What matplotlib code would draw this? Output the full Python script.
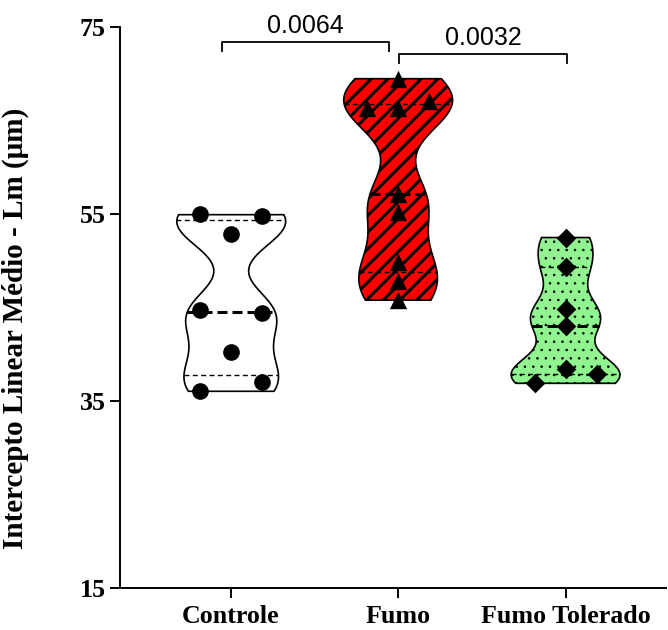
import numpy as np
import matplotlib
matplotlib.use("Agg")
import matplotlib.pyplot as plt

# ---- data ----
categories = ["Controle", "Fumo", "Fumo Tolerado"]
controle = [55.0, 54.8, 52.9, 44.7, 44.4, 40.3, 37.0, 36.1]
fumo = [69.5, 67.1, 66.4, 66.4, 57.2, 55.2, 49.9, 47.8, 45.8]
fumo_tolerado = [52.5, 49.3, 44.8, 43.0, 38.4, 37.9, 36.9]
# horizontal slot of each point (scatter spread used by the original software)
controle_slots = [-1, 1, 0, -1, 1, 0, 1, -1]
fumo_slots = [0, 1, -1, 0, 0, 0, 0, 0, 0]
tolerado_slots = [0, 0, 0, 0, 0, 1, -1]
p_values = ["0.0064", "0.0032"]
comparisons = [(0, 1), (1, 2)]
yticks = [15, 35, 55, 75]

groups = [controle, fumo, fumo_tolerado]
slots = [controle_slots, fumo_slots, tolerado_slots]
fills = ["#FFFFFF", "#FF0000", "#90F590"]
hatches = [None, "//", ".."]
hatch_lw = [1.0, 2.2, 0.6]
markers = ["o", "^", "D"]
msizes = [12, 12.5, 10]

plt.rcParams["lines.scale_dashes"] = False

fig = plt.figure(figsize=(6.68, 6.30), dpi=100)
ax = fig.add_axes([0.180, 0.0667, 0.817, 0.890])

positions = np.arange(len(categories))
vp = ax.violinplot(groups, positions=positions, widths=0.65,
                   showextrema=False, showmedians=False, bw_method=0.33,
                   points=300)

for i, body in enumerate(vp["bodies"]):
    body.set_facecolor(fills[i])
    body.set_edgecolor("black")
    body.set_linewidth(1.2)
    body.set_alpha(1)
    if hatches[i]:
        body.set_hatch(hatches[i])
        if hasattr(body, "set_hatch_linewidth"):
            body.set_hatch_linewidth(hatch_lw[i])
        else:
            plt.rcParams["hatch.linewidth"] = 2.2
    body.set_zorder(1)
    verts = body.get_paths()[0].vertices
    right = verts[verts[:, 0] >= positions[i]]
    order = np.argsort(right[:, 1])
    ys = right[order, 1]
    hw = right[order, 0] - positions[i]
    q1, med, q3 = np.percentile(groups[i], [25, 50, 75], method="weibull")
    for q, lw, dash in [(q1, 1.0, (3.6, 2.4)), (q3, 1.0, (3.6, 2.4)),
                        (med, 2.2, (7.2, 3.6))]:
        w = np.interp(q, ys, hw)
        ax.plot([positions[i] - w, positions[i] + w], [q, q], color="black",
                lw=lw, dashes=dash, zorder=2, solid_capstyle="butt",
                dash_capstyle="butt")
    xs = positions[i] + np.array(slots[i]) * 0.185
    ax.scatter(xs, groups[i], marker=markers[i], s=msizes[i] ** 2,
               color="black", zorder=3, linewidths=0)

# significance brackets
bracket_y = [73.4, 72.1]
for (a, b), p, yb in zip(comparisons, p_values, bracket_y):
    x0 = positions[a] - 0.055 if a == 0 else positions[a] + 0.006
    x1 = positions[b] - 0.054 if a == 0 else positions[b] + 0.01
    ax.plot([x0, x0, x1, x1], [yb - 0.9, yb, yb, yb - 0.9],
            color="black", lw=1.3, clip_on=False, zorder=4)
    ax.text((x0 + x1) / 2, yb + 0.45, p, ha="center", va="bottom",
            fontsize=18, family="Liberation Sans", clip_on=False)

ax.set_xlim(-0.66, 2.6)
ax.set_ylim(15, 75)
ax.set_yticks(yticks)
ax.set_xticks(positions)
ax.set_xticklabels(categories)
for lab in ax.get_xticklabels() + ax.get_yticklabels():
    lab.set_family("Liberation Serif")
    lab.set_fontweight("bold")
    lab.set_fontsize(18.7)
ax.tick_params(axis="both", length=7.5, width=1.4)
ax.tick_params(axis="x", pad=5)
ax.tick_params(axis="y", pad=3)
for s in ["top", "right"]:
    ax.spines[s].set_visible(False)
for s in ["left", "bottom"]:
    ax.spines[s].set_linewidth(1.4)

ax.set_ylabel("Intercepto Linear Médio - Lm (μm)", family="Liberation Serif",
              fontweight="bold", fontsize=21)
ax.yaxis.set_label_coords(-0.168, 0.463)

fig.savefig("out.png", dpi=100)
